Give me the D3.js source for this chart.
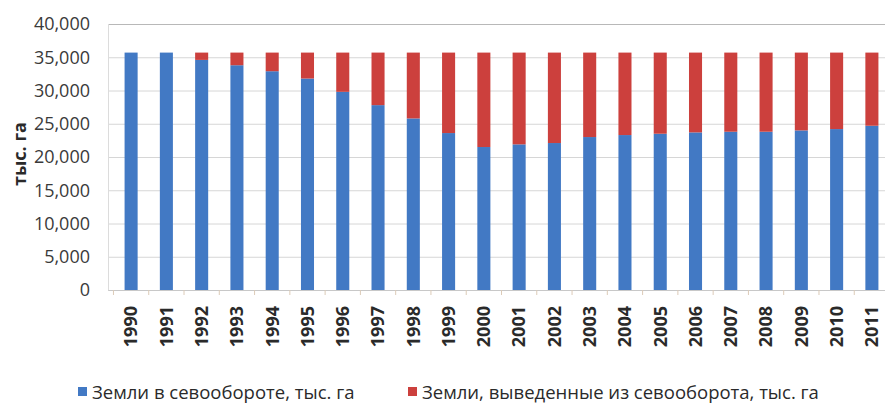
<!DOCTYPE html>
<html><head><meta charset="utf-8">
<script src="https://cdn.jsdelivr.net/npm/d3@7"></script>
<style>body{margin:0;background:#fff}svg{display:block}</style>
</head><body>
<svg id="c" width="885" height="403"></svg>
<script>
const years = ["1990","1991","1992","1993","1994","1995","1996","1997","1998","1999","2000","2001","2002","2003","2004","2005","2006","2007","2008","2009","2010","2011"];
const inRotation = [35700,35700,34600,33800,32900,31800,29800,27800,25800,23600,21500,21900,22100,23000,23300,23500,23700,23800,23800,24000,24200,24700];
const outOfRotation = [0,0,1100,1900,2800,3900,5900,7900,9900,12100,14200,13800,13600,12700,12400,12200,12000,11900,11900,11700,11500,11000];
const yTicks = [0,5000,10000,15000,20000,25000,30000,35000,40000];
const seriesNames = ["Земли в севообороте, тыс. га","Земли, выведенные из севооборота, тыс. га"];
const colors = ["#4279c4","#cc403d"];

(function(){
const svg = d3.select("#c");
const pL = 108, pR = 895, pT = 24, pB = 290, gridR = 885;
const x = d3.scaleBand().domain(years).range([pL, pR]).paddingInner(0.63).paddingOuter(0.47);
const y = d3.scaleLinear().domain([0,40000]).range([pB, pT]);
const font = "'Open Sans', sans-serif";

// gridlines
svg.append("g").selectAll("line").data(yTicks).join("line")
  .attr("x1", pL).attr("x2", gridR)
  .attr("y1", d => y(d) + 0.5).attr("y2", d => y(d) + 0.5)
  .attr("stroke", d => d === 40000 ? "#b8b8b8" : "#d6d6d6").attr("stroke-width", 1);
svg.append("line").attr("x1", pL + 0.5).attr("x2", pL + 0.5).attr("y1", pT).attr("y2", pB).attr("stroke", "#dcdcdc");

// y axis
const ya = svg.append("g").attr("transform", `translate(${pL},0)`)
  .call(d3.axisLeft(y).tickValues(yTicks).tickFormat(d3.format(",")).tickSize(0).tickPadding(18));
ya.select(".domain").remove();
ya.selectAll("text").attr("font-family", font).attr("font-size", 18).attr("fill", "#3a3a3a");

// bars
const stackData = years.map((yr, i) => ({year: yr, a: inRotation[i], b: outOfRotation[i]}));
const stack = d3.stack().keys(["a","b"])(stackData);
svg.append("g").selectAll("g").data(stack).join("g").attr("fill", (d, i) => colors[i])
  .selectAll("rect").data(d => d).join("rect")
  .attr("x", d => x(d.data.year)).attr("width", x.bandwidth())
  .attr("y", d => y(d[1])).attr("height", d => y(d[0]) - y(d[1]));

// x axis
const xa = svg.append("g").attr("transform", `translate(0,${pB})`)
  .call(d3.axisBottom(x).tickSize(0).tickPadding(0));
xa.select(".domain").attr("stroke", "#c8c8c8");
xa.selectAll("text").attr("font-family", font).attr("font-size", 18).attr("font-weight", "bold").attr("fill", "#2a2a2a")
  .attr("transform", "rotate(-90)").attr("text-anchor", "end").attr("y", 0).attr("x", -16).attr("dy", "0.35em");
const step = x.step();
const x0 = x(years[0]) - step * x.paddingInner() / 2;
svg.append("g").selectAll("line").data(d3.range(years.length + 1)).join("line")
  .attr("x1", i => x0 + i * step).attr("x2", i => x0 + i * step)
  .attr("y1", pB).attr("y2", pB + 5).attr("stroke", "#dccbb8");

// y title
svg.append("text").attr("transform", `translate(26,154) rotate(-90)`)
  .attr("text-anchor", "middle").attr("font-family", font).attr("font-size", 18).attr("font-weight", "bold")
  .attr("fill", "#2a2a2a").text("тыс. га");

// legend
const leg = [{x: 78, name: seriesNames[0], c: colors[0]}, {x: 408, name: seriesNames[1], c: colors[1]}];
const lg = svg.append("g").selectAll("g").data(leg).join("g").attr("transform", d => `translate(${d.x},399)`);
lg.append("rect").attr("x", 0).attr("y", -12).attr("width", 9).attr("height", 9).attr("fill", d => d.c);
lg.append("text").attr("x", 14).attr("y", 0).attr("font-family", font).attr("font-size", 18.5)
  .attr("fill", "#2a2a2a").text(d => d.name);
})();
</script>
</body></html>
